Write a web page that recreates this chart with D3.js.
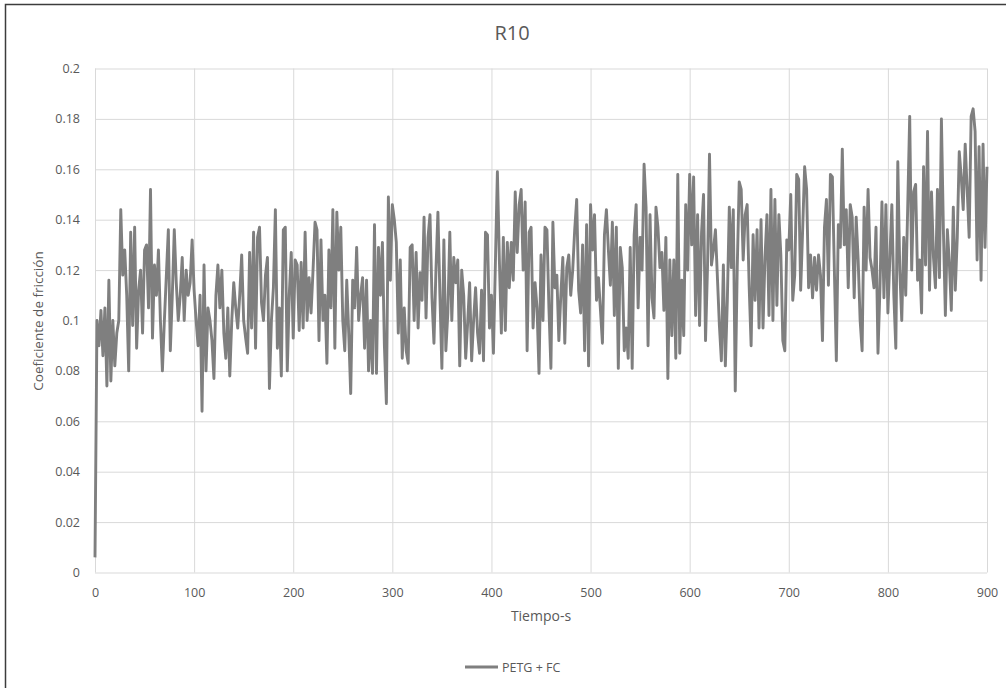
<!DOCTYPE html>
<html><head><meta charset="utf-8">
<script src="https://cdn.jsdelivr.net/npm/d3@7"></script>
<style>
body{margin:0;background:#fff}
svg{display:block}
text{font-family:"Open Sans",sans-serif;fill:#595959}
</style>
</head><body>
<svg id="c" width="1006" height="688"></svg>
<script>
const chartTitle = "R10";
const seriesName = "PETG + FC";
const xAxisTitle = "Tiempo-s";
const yAxisTitle = "Coeficiente de fricción";
const xTickLabels = ["0","100","200","300","400","500","600","700","800","900"];
const yTickLabels = ["0","0.02","0.04","0.06","0.08","0.1","0.12","0.14","0.16","0.18","0.2"];
const timeStep = 2; // seconds between samples
const cof = [
// t 0-150
0.006,0.100,0.090,0.104,0.086,0.105,0.074,0.116,0.076,0.100,
0.082,0.095,0.100,0.144,0.118,0.128,0.110,0.080,0.135,0.098,
0.137,0.089,0.112,0.120,0.095,0.128,0.130,0.105,0.152,0.093,
0.122,0.110,0.128,0.100,0.080,0.100,0.118,0.136,0.088,0.110,
0.136,0.115,0.100,0.110,0.125,0.100,0.120,0.110,0.115,0.132,
0.112,0.100,0.090,0.110,0.064,0.122,0.080,0.105,0.100,0.092,
0.077,0.110,0.122,0.105,0.120,0.095,0.085,0.105,0.078,0.100,
0.115,0.105,0.097,0.110,0.126,0.100,
// t 152-300
0.093,0.087,0.127,0.097,0.135,0.089,0.133,0.137,0.107,0.100,
0.118,0.125,0.073,0.100,0.113,0.144,0.089,0.105,0.078,0.136,
0.137,0.080,0.110,0.127,0.093,0.124,0.122,0.096,0.123,0.097,
0.135,0.100,0.117,0.103,0.120,0.139,0.136,0.092,0.132,0.100,
0.110,0.083,0.128,0.105,0.144,0.089,0.143,0.120,0.137,0.100,
0.088,0.116,0.095,0.071,0.116,0.105,0.129,0.100,0.110,0.117,
0.089,0.116,0.080,0.100,0.079,0.138,0.079,0.129,0.110,0.131,
0.090,0.067,0.149,0.116,0.146,
// t 302-464
0.140,0.131,0.095,0.124,0.085,0.105,0.088,0.083,0.129,0.130,
0.100,0.127,0.097,0.119,0.108,0.141,0.101,0.133,0.142,0.109,
0.091,0.120,0.143,0.110,0.081,0.132,0.088,0.103,0.135,0.100,
0.125,0.115,0.124,0.082,0.120,0.110,0.085,0.099,0.115,0.084,
0.100,0.113,0.095,0.087,0.112,0.084,0.135,0.134,0.097,0.110,
0.087,0.123,0.159,0.124,0.095,0.133,0.096,0.131,0.113,0.131,
0.116,0.151,0.127,0.146,0.152,0.120,0.147,0.088,0.135,0.137,
0.097,0.115,0.105,0.079,0.126,0.100,0.137,0.136,0.105,0.081,
0.139,0.113,
// t 466-620
0.118,0.092,0.110,0.125,0.091,0.121,0.126,0.110,0.120,0.136,
0.148,0.112,0.103,0.130,0.088,0.138,0.082,0.146,0.128,0.142,
0.108,0.117,0.104,0.091,0.134,0.144,0.128,0.114,0.139,0.102,
0.137,0.081,0.129,0.121,0.088,0.097,0.085,0.129,0.081,0.134,
0.146,0.105,0.133,0.120,0.162,0.145,0.090,0.142,0.109,0.101,
0.145,0.137,0.121,0.127,0.104,0.133,0.077,0.124,0.094,0.124,
0.085,0.158,0.087,0.116,0.094,0.146,0.120,0.158,0.130,0.157,
0.102,0.142,0.098,0.135,0.150,0.092,0.121,0.166,
// t 622-776
0.122,0.128,0.136,0.117,0.098,0.084,0.122,0.082,0.108,0.145,
0.121,0.144,0.072,0.121,0.155,0.152,0.124,0.142,0.146,0.114,
0.090,0.134,0.108,0.136,0.097,0.140,0.097,0.125,0.142,0.102,
0.152,0.100,0.148,0.106,0.142,0.126,0.092,0.088,0.132,0.128,
0.150,0.108,0.118,0.158,0.156,0.112,0.136,0.161,0.152,0.113,
0.126,0.109,0.125,0.112,0.126,0.118,0.092,0.137,0.148,0.114,
0.158,0.157,0.120,0.084,0.138,0.129,0.168,0.130,0.144,0.113,
0.146,0.141,0.109,0.141,0.124,0.100,0.088,0.145,
// t 778-900
0.120,0.152,0.125,0.120,0.113,0.137,0.087,0.113,0.147,0.109,
0.146,0.103,0.125,0.146,0.110,0.089,0.163,0.120,0.100,0.133,
0.110,0.145,0.181,0.120,0.151,0.154,0.116,0.124,0.103,0.161,
0.122,0.175,0.112,0.151,0.125,0.113,0.152,0.117,0.180,0.136,
0.102,0.136,0.123,0.104,0.145,0.112,0.133,0.167,0.157,0.144,
0.170,0.152,0.133,0.181,0.184,0.175,0.124,0.169,0.116,0.170,
0.129,0.161
];

const svg = d3.select("#c");
const P = {left:95, right:987, top:68.5, bottom:572.5};
const x = d3.scaleLinear().domain([0, 900]).range([P.left, P.right]);
const y = d3.scaleLinear().domain([0, 0.2]).range([P.bottom, P.top]);

// outer frame
svg.append("rect").attr("x",5.5).attr("y",4.5).attr("width",1010).attr("height",700)
  .attr("fill","#fff").attr("stroke","#3c3c3c").attr("stroke-width",1.5);

// horizontal grid + y labels
const yAxis = d3.axisLeft(y)
  .tickValues(yTickLabels.map(Number))
  .tickFormat((d,i)=>yTickLabels[i])
  .tickSize(-(P.right-P.left)).tickPadding(15);
const gy = svg.append("g").attr("transform",`translate(${P.left},0)`).call(yAxis);
gy.select(".domain").remove();
gy.selectAll("line").attr("stroke","#d9d9d9").attr("stroke-width",1);
gy.selectAll("text").attr("font-size",12.5).attr("fill","#595959").style("font-family","'Open Sans',sans-serif");

// vertical grid + x labels
const xAxis = d3.axisBottom(x)
  .tickValues(xTickLabels.map(Number))
  .tickFormat((d,i)=>xTickLabels[i])
  .tickSize(-(P.bottom-P.top)).tickPadding(16);
const gx = svg.append("g").attr("transform",`translate(0,${P.bottom})`).call(xAxis);
gx.select(".domain").remove();
gx.selectAll("line").attr("stroke","#d9d9d9").attr("stroke-width",1);
gx.selectAll("text").attr("font-size",12.5).attr("fill","#595959").style("font-family","'Open Sans',sans-serif");

// series line
const line = d3.line().x((d,i)=>x(i*timeStep)).y(d=>y(d));
svg.append("path").datum(cof).attr("d",line)
  .attr("fill","none").attr("stroke","#7f7f7f").attr("stroke-width",2.9)
  .attr("stroke-linejoin","round");

// title
svg.append("text").attr("x",512).attr("y",39.5).attr("text-anchor","middle")
  .attr("font-size",20).text(chartTitle);

// axis titles
svg.append("text").attr("x",(P.left+P.right)/2).attr("y",621).attr("text-anchor","middle")
  .attr("font-size",14).text(xAxisTitle);
svg.append("text").attr("transform","translate(38,321) rotate(-90)")
  .attr("text-anchor","middle").attr("dominant-baseline","central")
  .attr("font-size",13.5).text(yAxisTitle);

// legend
svg.append("line").attr("x1",465).attr("x2",498).attr("y1",667).attr("y2",667)
  .attr("stroke","#7f7f7f").attr("stroke-width",2.8);
svg.append("text").attr("x",502).attr("y",671.5).attr("font-size",12.5).text(seriesName);
</script>
</body></html>
